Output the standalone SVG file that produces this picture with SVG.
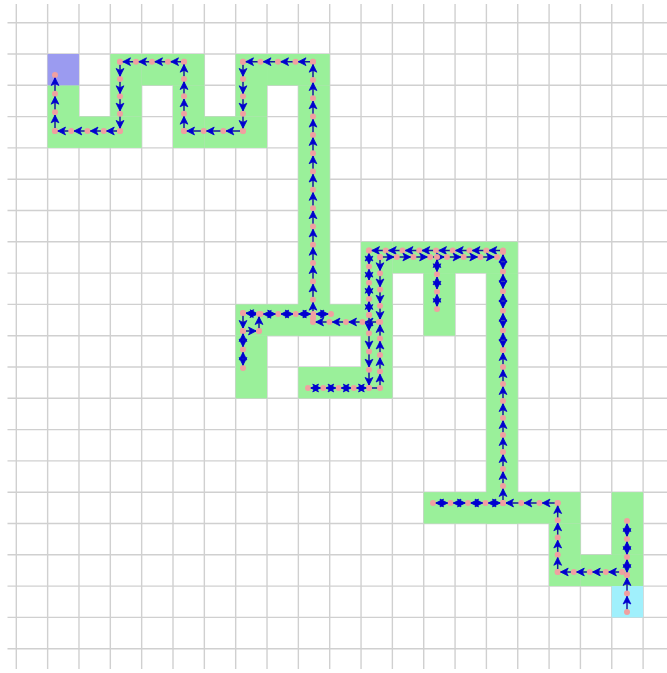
<svg xmlns="http://www.w3.org/2000/svg" width="667" height="673" viewBox="0 0 667 673">
<style>
.grid line{stroke:#d0d0d0;stroke-width:1.4}
.cell{fill:#9af09a}
.startc{fill:#9b9bf0}
.endc{fill:#a0f0fc}
.leg{fill:none;stroke:#1616a0;stroke-width:1.5;marker-start:url(#d);marker-mid:url(#a);marker-end:url(#a)}
.rev{fill:none;stroke:none;marker-mid:url(#b);marker-end:url(#b)}
.plain{fill:none;stroke:#1616a0;stroke-width:1.5}
</style>
<defs>
<marker id="a" viewBox="-16 -8 24 16" refX="0" refY="0" markerWidth="24" markerHeight="16" markerUnits="userSpaceOnUse" orient="auto">
<circle r="3" fill="#f0a0a0"/>
<path d="M-2.8,0 L-10.5,-3.9 L-8.6,0 L-10.5,3.9 Z" fill="#0000d0" stroke="#0000d0" stroke-width="0.8" stroke-linejoin="round"/>
</marker>
<marker id="b" viewBox="-16 -8 24 16" refX="0" refY="0" markerWidth="24" markerHeight="16" markerUnits="userSpaceOnUse" orient="auto">
<path d="M-2.8,0 L-10.5,-3.9 L-8.6,0 L-10.5,3.9 Z" fill="#0000d0" stroke="#0000d0" stroke-width="0.8" stroke-linejoin="round"/>
</marker>
<marker id="d" viewBox="-8 -8 16 16" refX="0" refY="0" markerWidth="16" markerHeight="16" markerUnits="userSpaceOnUse">
<circle r="3" fill="#f0a0a0"/>
</marker>
</defs>
<rect width="667" height="673" fill="#ffffff"/>
<g class="grid">
<line x1="16.3" y1="4" x2="16.3" y2="669"/><line x1="47.64" y1="4" x2="47.64" y2="669"/><line x1="78.98" y1="4" x2="78.98" y2="669"/><line x1="110.32" y1="4" x2="110.32" y2="669"/><line x1="141.66" y1="4" x2="141.66" y2="669"/><line x1="173" y1="4" x2="173" y2="669"/><line x1="204.34" y1="4" x2="204.34" y2="669"/><line x1="235.68" y1="4" x2="235.68" y2="669"/><line x1="267.02" y1="4" x2="267.02" y2="669"/><line x1="298.36" y1="4" x2="298.36" y2="669"/><line x1="329.7" y1="4" x2="329.7" y2="669"/><line x1="361.04" y1="4" x2="361.04" y2="669"/><line x1="392.38" y1="4" x2="392.38" y2="669"/><line x1="423.72" y1="4" x2="423.72" y2="669"/><line x1="455.06" y1="4" x2="455.06" y2="669"/><line x1="486.4" y1="4" x2="486.4" y2="669"/><line x1="517.74" y1="4" x2="517.74" y2="669"/><line x1="549.08" y1="4" x2="549.08" y2="669"/><line x1="580.42" y1="4" x2="580.42" y2="669"/><line x1="611.76" y1="4" x2="611.76" y2="669"/><line x1="643.1" y1="4" x2="643.1" y2="669"/>
<line x1="7.5" y1="22.7" x2="667" y2="22.7"/><line x1="7.5" y1="54" x2="667" y2="54"/><line x1="7.5" y1="85.3" x2="667" y2="85.3"/><line x1="7.5" y1="116.6" x2="667" y2="116.6"/><line x1="7.5" y1="147.9" x2="667" y2="147.9"/><line x1="7.5" y1="179.2" x2="667" y2="179.2"/><line x1="7.5" y1="210.5" x2="667" y2="210.5"/><line x1="7.5" y1="241.8" x2="667" y2="241.8"/><line x1="7.5" y1="273.1" x2="667" y2="273.1"/><line x1="7.5" y1="304.4" x2="667" y2="304.4"/><line x1="7.5" y1="335.7" x2="667" y2="335.7"/><line x1="7.5" y1="367" x2="667" y2="367"/><line x1="7.5" y1="398.3" x2="667" y2="398.3"/><line x1="7.5" y1="429.6" x2="667" y2="429.6"/><line x1="7.5" y1="460.9" x2="667" y2="460.9"/><line x1="7.5" y1="492.2" x2="667" y2="492.2"/><line x1="7.5" y1="523.5" x2="667" y2="523.5"/><line x1="7.5" y1="554.8" x2="667" y2="554.8"/><line x1="7.5" y1="586.1" x2="667" y2="586.1"/><line x1="7.5" y1="617.4" x2="667" y2="617.4"/><line x1="7.5" y1="648.7" x2="667" y2="648.7"/>
</g>
<g id="corridor">
<rect class="cell" x="47.64" y="85.3" width="31.34" height="62.6"/>
<rect class="cell" x="78.98" y="116.6" width="62.68" height="31.3"/>
<rect class="cell" x="110.32" y="54" width="31.34" height="62.6"/>
<rect class="cell" x="141.66" y="54" width="62.68" height="31.3"/>
<rect class="cell" x="173" y="85.3" width="31.34" height="62.6"/>
<rect class="cell" x="204.34" y="116.6" width="62.68" height="31.3"/>
<rect class="cell" x="235.68" y="54" width="31.34" height="62.6"/>
<rect class="cell" x="267.02" y="54" width="62.68" height="31.3"/>
<rect class="cell" x="298.36" y="85.3" width="31.34" height="250.4"/>
<rect class="cell" x="235.68" y="304.4" width="156.7" height="31.3"/>
<rect class="cell" x="235.68" y="335.7" width="31.34" height="62.6"/>
<rect class="cell" x="361.04" y="241.8" width="31.34" height="156.5"/>
<rect class="cell" x="298.36" y="367" width="62.68" height="31.3"/>
<rect class="cell" x="392.38" y="241.8" width="125.36" height="31.3"/>
<rect class="cell" x="423.72" y="273.1" width="31.34" height="62.6"/>
<rect class="cell" x="486.4" y="273.1" width="31.34" height="250.4"/>
<rect class="cell" x="423.72" y="492.2" width="156.7" height="31.3"/>
<rect class="cell" x="549.08" y="523.5" width="31.34" height="62.6"/>
<rect class="cell" x="580.42" y="554.8" width="62.68" height="31.3"/>
<rect class="cell" x="611.76" y="492.2" width="31.34" height="62.6"/>
</g>
<g id="start"><rect class="startc" x="47.64" y="54" width="31.34" height="31.3"/></g>
<g id="goal"><rect class="endc" x="611.76" y="586.1" width="31.34" height="31.3"/></g>
<g id="connectors">
<polyline class="plain" points="313,322 313,318"/>
<polyline class="plain" points="369,388 380,388"/>
<polyline class="plain" points="503,252 503,250.5"/>
<polyline class="plain" points="627,575 622,572"/>
<polyline class="leg" points="55,131 55,112.3 55,93.7 55,75"/>
<polyline class="leg" points="120,131 103.75,131 87.5,131 71.25,131 55,131"/>
<polyline class="leg" points="120,61.7 120,79 120,96.3 120,113.7 120,131"/>
<polyline class="leg" points="184,61.7 168,61.7 152,61.7 136,61.7 120,61.7"/>
<polyline class="leg" points="184,131 184,113.7 184,96.3 184,79 184,61.7"/>
<polyline class="leg" points="243,131 223.3,131 203.7,131 184,131"/>
<polyline class="leg" points="243,61.7 243,79 243,96.3 243,113.7 243,131"/>
<polyline class="leg" points="313,61.7 295.5,61.7 278,61.7 260.5,61.7 243,61.7"/>
<polyline class="leg" points="313,318 313,299.69 313,281.39 313,263.08 313,244.77 313,226.46 313,208.16 313,189.85 313,171.54 313,153.24 313,134.93 313,116.62 313,98.31 313,80.01 313,61.7"/>
<polyline class="leg" points="379,322 362.5,322 346,322 329.5,322 313,322"/>
<polyline class="leg" points="331,314 313.4,314 295.8,314 278.2,314 260.6,314 243,313"/>
<polyline class="rev" points="243,313 260.6,314 278.2,314 295.8,314 313.4,314 331,314"/>
<polyline class="leg" points="243,313 243,331"/>
<polyline class="leg" points="243,331 259,331"/>
<polyline class="leg" points="259,331 259,314"/>
<polyline class="leg" points="243,331 243,349.5 243,368"/>
<polyline class="rev" points="243,368 243,349.5 243,331"/>
<polyline class="leg" points="369,250.5 369,266.6 369,282.7 369,298.9 369,315"/>
<polyline class="rev" points="369,315 369,298.9 369,282.7 369,266.6 369,250.5"/>
<polyline class="leg" points="369,315 369,333.25 369,351.5 369,369.75 369,388"/>
<polyline class="leg" points="380,257 380,273.25 380,289.5 380,305.75 380,322"/>
<polyline class="leg" points="380,388 380,371.5 380,355 380,338.5 380,322"/>
<polyline class="leg" points="369,388 353.75,388 338.5,388 323.25,388 308,388"/>
<polyline class="rev" points="308,388 323.25,388 338.5,388 353.75,388 369,388"/>
<polyline class="leg" points="503,250.5 486.25,250.5 469.5,250.5 452.75,250.5 436,250.5 419.25,250.5 402.5,250.5 385.75,250.5 369,250.5"/>
<polyline class="leg" points="380,257 396.7,257 413.4,257 430.1,257 446.9,257 463.6,257 480.3,257 497,257"/>
<polyline class="leg" points="437,257 437,274.3 437,291.7 437,309"/>
<polyline class="rev" points="437,309 437,291.7 437,274.3 437,257"/>
<polyline class="leg" points="503,503 503,486 503,469 503,452 503,435 503,418 503,401 503,384 503,367 503,350"/>
<polyline class="leg" points="503,350 503,330.4 503,310.8 503,291.2 503,271.6 503,252"/>
<polyline class="rev" points="503,252 503,271.6 503,291.2 503,310.8 503,330.4 503,350"/>
<polyline class="leg" points="557.7,503 539.5,503 521.3,503 503,503"/>
<polyline class="leg" points="503,503 485.5,503 468,503 450.5,503 433,503"/>
<polyline class="rev" points="433,503 450.5,503 468,503 485.5,503 503,503"/>
<polyline class="leg" points="557.7,572 557.7,554.75 557.7,537.5 557.7,520.25 557.7,503"/>
<polyline class="leg" points="622,572 605.9,572 589.8,572 573.8,572 557.7,572"/>
<polyline class="leg" points="627,612 627,593.5 627,575"/>
<polyline class="leg" points="627,575 627,557 627,539 627,521"/>
<polyline class="rev" points="627,521 627,539 627,557 627,575"/>
</g>
</svg>
